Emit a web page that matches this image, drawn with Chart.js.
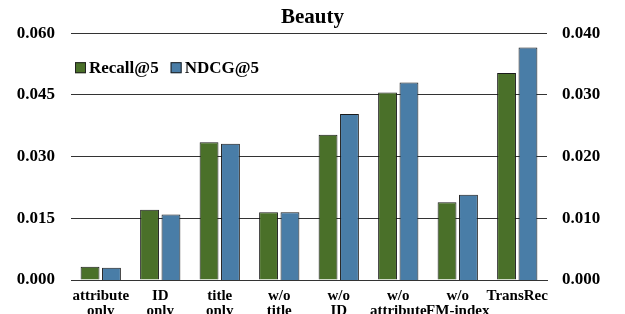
<!DOCTYPE html>
<html>
<head>
<meta charset="utf-8">
<script src="https://cdn.jsdelivr.net/npm/chart.js@4"></script>
<style>
  html, body { margin: 0; padding: 0; background: #fff; }
  #wrap { width: 625px; height: 314px; }
</style>
</head>
<body>
<div id="wrap"><canvas id="barChart"></canvas></div>
<script>
// data
var categories = [
    ['attribute', 'only'], ['ID', 'only'], ['title', 'only'], ['w/o', 'title'],
    ['w/o', 'ID'], ['w/o', 'attribute'], ['w/o', 'FM-index'], 'TransRec'
];
var recallValues = [0.0032, 0.0171, 0.0335, 0.0165, 0.0353, 0.0456, 0.0189, 0.0503];
var ndcgValues = [0.0020, 0.0106, 0.0221, 0.0110, 0.0269, 0.0320, 0.0138, 0.0377];
var leftTicks = [0, 0.015, 0.03, 0.045, 0.06];
var rightTicks = [0, 0.01, 0.02, 0.03, 0.04];

var serif = '"Liberation Serif", "Times New Roman", serif';

// legend drawn inside the plot, top left
var innerLegend = {
    id: 'innerLegend',
    afterDraw: function (chart) {
        var c = chart.ctx;
        var items = chart.data.datasets;
        var x = chart.chartArea.left + 4;
        var y = chart.chartArea.top + 34;
        c.save();
        c.font = 'bold 17px ' + serif;
        c.textBaseline = 'middle';
        items.forEach(function (ds) {
            c.fillStyle = ds.backgroundColor;
            c.fillRect(x, y - 5, 11, 11);
            c.strokeStyle = '#222';
            c.lineWidth = 1;
            c.strokeRect(x + 0.5, y - 4.5, 10, 10);
            c.fillStyle = '#000';
            c.fillText(ds.label, x + 14, y + 1);
            x += 14 + c.measureText(ds.label).width + 12;
        });
        c.restore();
    }
};

var ctx = document.getElementById('barChart').getContext('2d');

var myChart = new Chart(ctx, {
    type: 'bar',
    data: {
        labels: categories,
        datasets: [{
            label: 'Recall@5',
            data: recallValues,
            yAxisID: 'y',
            backgroundColor: '#4a7029',
            borderColor: '#1a1a1a',
            borderWidth: 1
        }, {
            label: 'NDCG@5',
            data: ndcgValues,
            yAxisID: 'y1',
            backgroundColor: '#497da7',
            borderColor: '#1a1a1a',
            borderWidth: 1
        }]
    },
    options: {
        responsive: true,
        maintainAspectRatio: false,
        animation: false,
        layout: { padding: 0 },
        categoryPercentage: 0.72,
        barPercentage: 0.88,
        plugins: {
            legend: { display: false },
            tooltip: { enabled: false },
            title: {
                display: true,
                text: 'Beauty',
                color: '#000',
                font: { family: serif, size: 21, weight: 'bold', lineHeight: 1.2 },
                padding: { top: 5, bottom: 3 }
            }
        },
        scales: {
            x: {
                grid: { display: false },
                border: { display: true, color: '#333', width: 1 },
                ticks: {
                    color: '#000',
                    padding: 1,
                    maxRotation: 0,
                    autoSkip: false,
                    font: { family: serif, size: 15, weight: 'bold', lineHeight: 1.0 }
                },
                afterFit: function (s) { s.height = 34; }
            },
            y: {
                position: 'left',
                min: 0,
                max: 0.06,
                afterBuildTicks: function (s) {
                    s.ticks = leftTicks.map(function (v) { return { value: v }; });
                },
                grid: { color: '#333', lineWidth: 1, drawTicks: false },
                border: { display: false },
                ticks: {
                    color: '#000',
                    padding: 16,
                    font: { family: serif, size: 17, weight: 'bold' },
                    callback: function (v) { return Number(v).toFixed(3); }
                },
                afterFit: function (s) { s.width = 71; }
            },
            y1: {
                position: 'right',
                min: 0,
                max: 0.04,
                afterBuildTicks: function (s) {
                    s.ticks = rightTicks.map(function (v) { return { value: v }; });
                },
                grid: { display: false, drawTicks: false },
                border: { display: false },
                ticks: {
                    color: '#000',
                    padding: 15,
                    font: { family: serif, size: 17, weight: 'bold' },
                    callback: function (v) { return Number(v).toFixed(3); }
                },
                afterFit: function (s) { s.width = 78; }
            }
        }
    },
    plugins: [innerLegend]
});
</script>
</body>
</html>
